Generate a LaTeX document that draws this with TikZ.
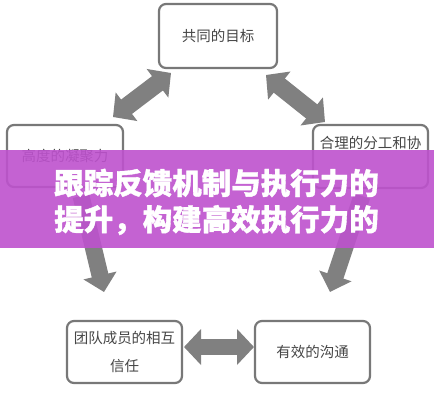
\documentclass[tikz,border=0pt]{standalone}
\usepackage{fontspec}
\newfontfamily\cjk{Noto Sans CJK SC}
\newfontfamily\cjkb[BoldFeatures={FakeBold=1.2}]{Noto Sans CJK SC}
\usetikzlibrary{arrows.meta}
\definecolor{boxgray}{RGB}{120,120,120}
\definecolor{textgray}{RGB}{70,70,70}
\definecolor{arrowgray}{RGB}{128,128,128}
\definecolor{bannerc}{RGB}{190,82,206}
\begin{document}
\begin{tikzpicture}[x=1pt,y=-1pt,
  box/.style={draw=boxgray, line width=2.2pt, rounded corners=7pt, fill=white,
    inner sep=0pt, minimum width=115pt, minimum height=62pt,
    font=\cjk\fontsize{14.5}{28}\selectfont, text=textgray, align=center},
  dblarrow/.style={draw=arrowgray, line width=18pt,
    {Triangle[length=17pt,width=35pt]}-{Triangle[length=17pt,width=35pt]}},
  onearrow/.style={draw=arrowgray, line width=17pt,
    -{Triangle[length=17pt,width=33pt]}},
  bannertext/.style={text=white, font=\cjkb\bfseries\fontsize{29.5}{30}\selectfont, inner sep=0pt}
]
\useasboundingbox (0,0) rectangle (434,400);
\fill[white] (0,0) rectangle (434,400);

% boxes
\node[box, minimum width=118pt, minimum height=64pt] (top) at (218,36) {共同的目标};
\node[box, minimum width=116pt] (left) at (65,156) {高度的凝聚力};
\node[box, minimum height=63pt] (right) at (370.5,156.5) {合理的分工和协\\\phantom{调}};
\node[box] (bl) at (124.5,352) {团队成员的相互\\信任};
\node[box] (br) at (312.5,352) {有效的沟通};

% arrow end points
\coordinate (a1s) at (113,117);
\coordinate (a1e) at (171,73);
\coordinate (a2s) at (266,75);
\coordinate (a2e) at (325,122);
\coordinate (a3s) at (81,196);
\coordinate (a3e) at (104,292);
\coordinate (a4s) at (362,196);
\coordinate (a4e) at (330,292);
\coordinate (a5s) at (184,347);
\coordinate (a5e) at (254,347);

\draw[dblarrow] (a1s) -- (a1e);
\draw[dblarrow] (a2s) -- (a2e);
\draw[onearrow] (a3s) -- (a3e);
\draw[onearrow] (a4s) -- (a4e);
\draw[dblarrow, line width=16pt] (a5s) -- (a5e);

% banner
\fill[bannerc, opacity=0.9] (0,150) rectangle (434,248);
\node[bannertext] (t1) at (216.5,183) {跟踪反馈机制与执行力的};
\node[bannertext] (t2) at (216.5,220) {提升，构建高效执行力的};
\end{tikzpicture}
\end{document}
